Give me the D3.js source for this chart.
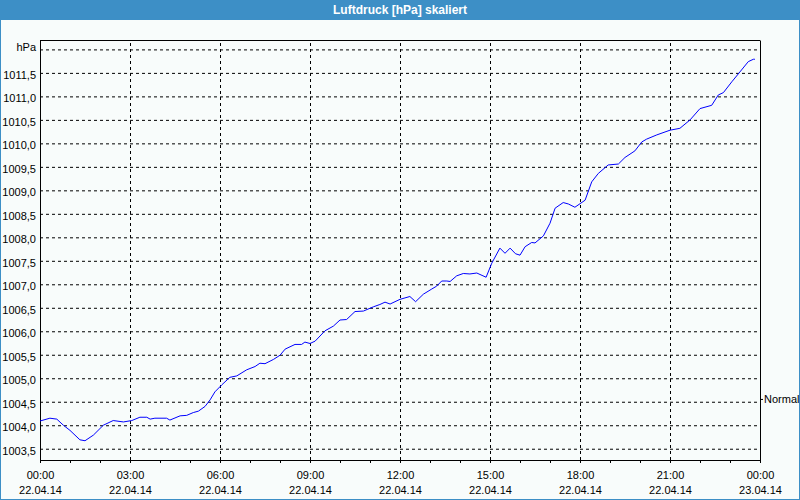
<!DOCTYPE html>
<html>
<head>
<meta charset="utf-8">
<script src="https://cdn.jsdelivr.net/npm/d3@7"></script>
<style>
  html, body { margin: 0; padding: 0; background: #f8fcfb; }
  svg { display: block; font-family: "Liberation Sans", Arial, sans-serif; }
</style>
</head>
<body>
<svg id="chart" width="800" height="500"></svg>
<script>
// Luftdruck 22.04.14, Stunden seit 00:00
var hours = [0, 0.33, 0.56, 0.78, 1.0, 1.33, 1.5, 1.78, 2.11, 2.44, 2.78, 3.06, 3.33, 3.56, 3.67, 3.83,
    4.22, 4.33, 4.67, 4.89, 5.11, 5.28, 5.5, 5.67, 5.83, 6.06, 6.33, 6.56, 6.89, 7.17, 7.33, 7.5, 7.78,
    8.0, 8.17, 8.5, 8.72, 8.83, 9.0, 9.17, 9.5, 9.78, 10.0, 10.22, 10.5, 10.78, 11.11, 11.33, 11.5, 11.67,
    12.0, 12.33, 12.52, 12.78, 13.06, 13.22, 13.39, 13.56, 13.67, 13.89, 14.11, 14.33, 14.56, 14.87,
    15.06, 15.33, 15.5, 15.67, 15.85, 16.0, 16.17, 16.39, 16.5, 16.78, 17.0, 17.17, 17.44, 17.61, 17.83,
    18.17, 18.39, 18.61, 18.94, 19.28, 19.5, 19.83, 20.06, 20.22, 20.56, 21.0, 21.33, 21.67, 22.0,
    22.39, 22.61, 22.78, 23.06, 23.33, 23.61, 23.78, 23.83];

var pressure = [1004.09, 1004.15, 1004.13, 1004.0, 1003.89, 1003.69, 1003.67, 1003.79, 1004.0, 1004.10,
    1004.07, 1004.10, 1004.17, 1004.17, 1004.13, 1004.15, 1004.15, 1004.11, 1004.20, 1004.21, 1004.27,
    1004.30, 1004.40, 1004.54, 1004.71, 1004.86, 1005.02, 1005.05, 1005.18, 1005.25, 1005.32, 1005.31,
    1005.40, 1005.49, 1005.62, 1005.72, 1005.72, 1005.77, 1005.74, 1005.79, 1006.01, 1006.11, 1006.24,
    1006.25, 1006.42, 1006.43, 1006.52, 1006.57, 1006.62, 1006.58, 1006.68, 1006.74, 1006.63, 1006.79,
    1006.90, 1006.96, 1007.07, 1007.07, 1007.06, 1007.18, 1007.23, 1007.22, 1007.24, 1007.15, 1007.45,
    1007.77, 1007.66, 1007.77, 1007.65, 1007.62, 1007.80, 1007.89, 1007.88, 1008.03, 1008.30, 1008.62,
    1008.74, 1008.71, 1008.64, 1008.79, 1009.18, 1009.36, 1009.54, 1009.56, 1009.70, 1009.84, 1010.03,
    1010.09, 1010.18, 1010.28, 1010.32, 1010.50, 1010.74, 1010.81, 1011.03, 1011.08, 1011.31, 1011.52,
    1011.74, 1011.79, 1011.79];

var yTicks = [1003.5, 1004.0, 1004.5, 1005.0, 1005.5, 1006.0, 1006.5, 1007.0, 1007.5, 1008.0,
    1008.5, 1009.0, 1009.5, 1010.0, 1010.5, 1011.0, 1011.5, 1012.0];
var unitLabel = 'hPa';
var normalValue = 1004.56;
var normalLabel = 'Normal';
var title = 'Luftdruck [hPa] skaliert';
var startDay = new Date(2014, 3, 22, 0, 0);
var endDay = new Date(2014, 3, 23, 0, 0);

var margin = {top: 40, right: 40, bottom: 40, left: 40},
    width = 800 - margin.left - margin.right,
    height = 500 - margin.top - margin.bottom;

var blue = '#3d8fc6';

var svg = d3.select('#chart');

// frame + title bar
svg.append('rect')
    .attr('x', 0.5).attr('y', 0.5)
    .attr('width', 799).attr('height', 499)
    .attr('fill', '#f8fcfb')
    .attr('stroke', blue);
svg.append('rect')
    .attr('x', 0).attr('y', 0)
    .attr('width', 800).attr('height', 20)
    .attr('fill', blue);
svg.append('text')
    .attr('x', 400).attr('y', 14)
    .attr('text-anchor', 'middle')
    .attr('fill', '#ffffff')
    .attr('font-weight', 'bold')
    .attr('font-size', '12px')
    .text(title);

var data = hours.map(function(h, i) {
    return {t: new Date(startDay.getTime() + h * 3600e3), v: pressure[i]};
});

var x = d3.scaleTime()
    .domain([startDay, endDay])
    .range([margin.left, margin.left + width]);

var y = d3.scaleLinear()
    .domain([1003.26, 1012.2])
    .range([margin.top + height, margin.top]);

var fmtVal = function(v) {
    if (v === 1012) return unitLabel;
    return d3.format('.1f')(v).replace('.', ',');
};

// horizontal grid + y labels
var yAxis = svg.append('g')
    .attr('transform', 'translate(' + margin.left + ',0)')
    .call(d3.axisLeft(y)
        .tickValues(yTicks)
        .tickSize(-width)
        .tickSizeOuter(0)
        .tickPadding(4)
        .tickFormat(fmtVal));
yAxis.select('.domain').attr('stroke', '#000');
yAxis.selectAll('.tick line')
    .attr('stroke', '#000')
    .attr('stroke-dasharray', '3,3');
yAxis.selectAll('.tick text')
    .attr('fill', '#000')
    .attr('font-size', '11px')
    .attr('font-family', '"Liberation Sans", Arial, sans-serif')
    .attr('dy', function(d) { return d === 1012 ? '0.1em' : '0.5em'; });

// vertical grid
var xGrid = svg.append('g')
    .attr('transform', 'translate(0,' + (margin.top + height) + ')')
    .call(d3.axisBottom(x)
        .ticks(d3.timeHour.every(3))
        .tickSize(-height)
        .tickSizeOuter(0)
        .tickFormat(''));
xGrid.select('.domain').remove();
xGrid.selectAll('.tick')
    .filter(function(d) { return +d === +startDay || +d === +endDay; })
    .remove();
xGrid.selectAll('.tick line')
    .attr('stroke', '#000')
    .attr('stroke-dasharray', '3,3');

// bottom axis, hourly ticks
var xAxis = svg.append('g')
    .attr('transform', 'translate(0,' + (margin.top + height) + ')')
    .call(d3.axisBottom(x)
        .ticks(d3.timeHour.every(1))
        .tickSize(3)
        .tickSizeOuter(0)
        .tickFormat(''));
xAxis.select('.domain').attr('stroke', '#000');
xAxis.selectAll('.tick line').attr('stroke', '#000');
xAxis.selectAll('.tick')
    .filter(function(d) { return d.getHours() % 3 === 0; })
    .each(function(d) {
        var txt = d3.select(this).select('text')
            .attr('y', 19)
            .attr('dy', 0)
            .attr('fill', '#000')
            .attr('font-size', '11px')
            .attr('font-family', '"Liberation Sans", Arial, sans-serif');
        txt.append('tspan').attr('x', 0).text(d3.timeFormat('%H:%M')(d));
        txt.append('tspan').attr('x', 0).attr('dy', 15).text(d3.timeFormat('%d.%m.%y')(d));
    });

// right axis with "Normal" marker
var rAxis = svg.append('g')
    .attr('transform', 'translate(' + (margin.left + width) + ',0)')
    .call(d3.axisRight(y)
        .tickValues([normalValue])
        .tickSize(3)
        .tickSizeOuter(0)
        .tickPadding(1)
        .tickFormat(function() { return normalLabel; }));
rAxis.select('.domain').attr('stroke', '#000');
rAxis.selectAll('.tick line').attr('stroke', '#000');
rAxis.selectAll('.tick text')
    .attr('fill', '#000')
    .attr('font-size', '11px')
    .attr('font-family', '"Liberation Sans", Arial, sans-serif');

// top border
svg.append('line')
    .attr('x1', margin.left).attr('x2', margin.left + width)
    .attr('y1', margin.top + 0.5).attr('y2', margin.top + 0.5)
    .attr('stroke', '#000');

// pressure line
var line = d3.line()
    .x(function(d) { return x(d.t); })
    .y(function(d) { return y(d.v); });

svg.append('path')
    .datum(data)
    .attr('d', line)
    .attr('fill', 'none')
    .attr('stroke', '#0000ff')
    .attr('stroke-width', 1);
</script>
</body>
</html>
